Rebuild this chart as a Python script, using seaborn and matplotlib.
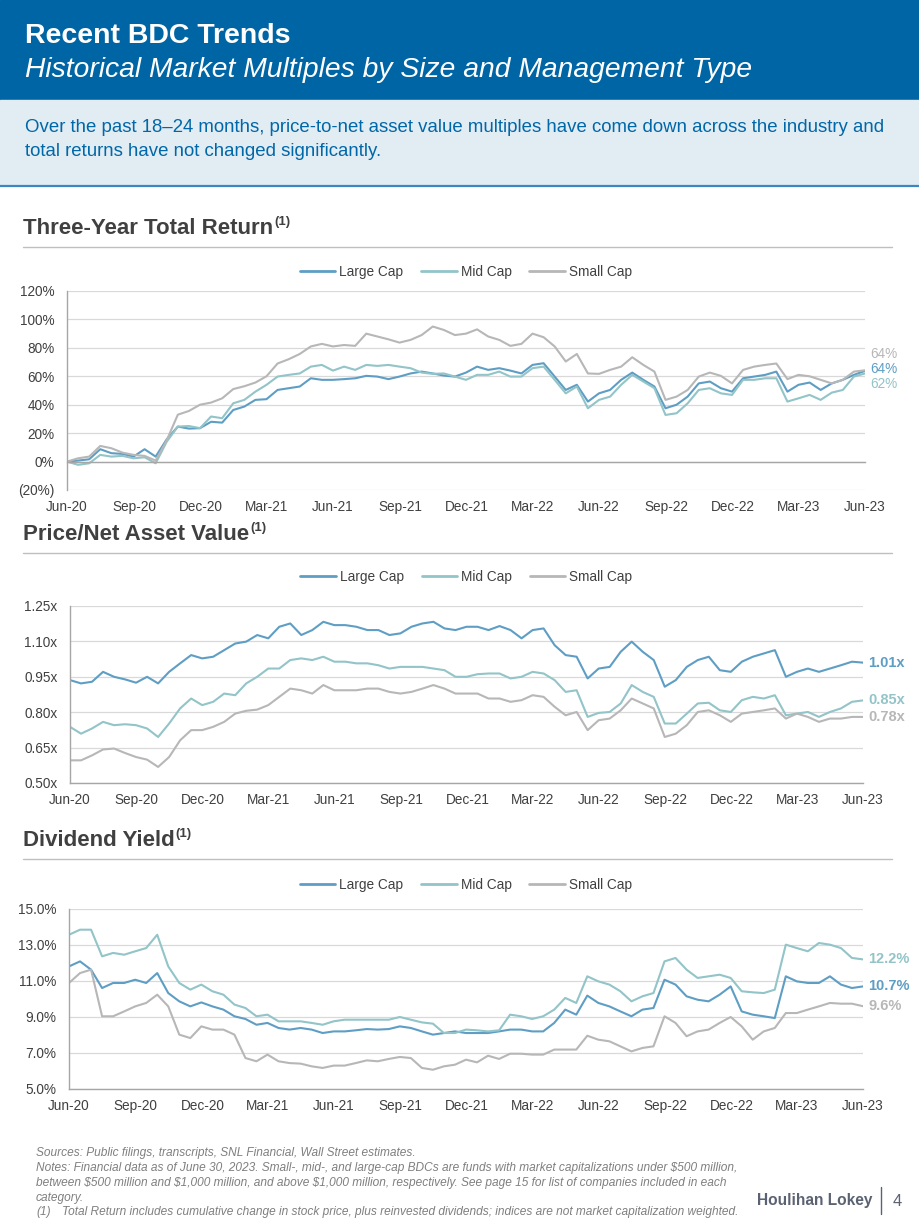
import matplotlib
matplotlib.use('Agg')
import matplotlib.pyplot as plt
import matplotlib.dates as mdates
from matplotlib.patches import Rectangle
from matplotlib.lines import Line2D
from matplotlib.ticker import FuncFormatter
import pandas as pd
import seaborn as sns

W, H = 920, 1227

SERIES = ['Large Cap', 'Mid Cap', 'Small Cap']
COLORS = {'Large Cap': '#5E9EC4', 'Mid Cap': '#92C4C8', 'Small Cap': '#B7B7B7'}

# semi-monthly observations, Jun-20 .. Jun-23
DATES = pd.date_range('2020-06-30', '2023-06-30', periods=73)
QUARTER_ENDS = ['2020-06-30', '2020-09-30', '2020-12-31', '2021-03-31',
                '2021-06-30', '2021-09-30', '2021-12-31', '2022-03-31',
                '2022-06-30', '2022-09-30', '2022-12-31', '2023-03-31',
                '2023-06-30']

# three-year total return (%)
tr_large = [0, 0.7, 1.6, 8.7, 5.9, 5.4, 3.5, 8.7, 3.5, 15.7,
            24.6, 23.2, 23.5, 28, 27.4, 36.3, 38.7, 43.4, 43.9, 50.4,
            51.6, 52.8, 58.6, 57.5, 57.5, 58, 58.6, 60.3, 59.8, 58,
            59.8, 62, 63.3, 62, 60.5, 59.8, 62.6, 66.8, 64.5, 65.7,
            64, 62, 68, 69.2, 59.8, 50.4, 54, 42.2, 48, 50.4,
            57.5, 62.6, 57.5, 52.8, 37.5, 40, 45.7, 55, 56.3, 51.6,
            49.2, 58.6, 59.8, 61, 63.3, 49.2, 54, 55.6, 50.4, 55,
            57.5, 61, 63.8]
tr_mid = [0, -2.3, -1.2, 4.7, 3.5, 4, 2.3, 3, -1.2, 14,
          24.6, 25, 23.5, 31.7, 30.5, 41, 43.4, 49.2, 54, 59.8,
          61, 62, 66.8, 68, 64, 66.8, 64.5, 68, 67.3, 68,
          66.8, 65.7, 62.6, 61.7, 62, 59.8, 57.5, 61, 61, 63.3,
          59.8, 59.8, 65.7, 66.8, 57.5, 48, 52.8, 37.5, 43.4, 45.7,
          54, 61, 56.3, 51.6, 32.8, 34, 41, 50.4, 51.6, 48,
          46.9, 57.5, 57.5, 58.6, 58.6, 42.2, 44.5, 46.9, 43.4, 48.5,
          50.4, 59.8, 62.0]
tr_small = [0, 2.3, 3.5, 11, 9.4, 6.3, 4.7, 4, 0.7, 15,
            33, 35.6, 40, 41.5, 44.5, 51, 53, 55.6, 60, 69,
            72, 75.7, 81, 82.8, 81, 82, 81.4, 90, 88, 86,
            83.7, 85.6, 89, 95, 92.6, 89, 90, 93, 88, 85.6,
            81.4, 82.8, 90, 87.5, 81, 70.4, 75.7, 62, 61.7, 64.5,
            66.8, 73.4, 68, 63.3, 43.4, 45.7, 50.4, 59.8, 62.6, 60.3,
            55, 64.5, 66.8, 68, 69, 58, 61, 60, 57.5, 55,
            57.5, 63.3, 64.2]

# price / net asset value (x)
pnav_large = [0.936, 0.922, 0.929, 0.971, 0.95, 0.939, 0.925, 0.95, 0.922, 0.971,
              1.007, 1.042, 1.028, 1.035, 1.063, 1.091, 1.099, 1.127, 1.113, 1.162,
              1.176, 1.127, 1.148, 1.183, 1.169, 1.169, 1.162, 1.148, 1.148, 1.127,
              1.134, 1.162, 1.176, 1.183, 1.155, 1.148, 1.162, 1.162, 1.148, 1.165,
              1.148, 1.113, 1.148, 1.155, 1.084, 1.042, 1.035, 0.943, 0.985, 0.992,
              1.056, 1.099, 1.056, 1.021, 0.908, 0.936, 0.992, 1.021, 1.035, 0.978,
              0.971, 1.014, 1.035, 1.049, 1.063, 0.95, 0.971, 0.985, 0.971, 0.985,
              0.999, 1.014, 1.01]
pnav_mid = [0.738, 0.709, 0.731, 0.759, 0.745, 0.749, 0.745, 0.731, 0.695, 0.752,
            0.816, 0.858, 0.830, 0.844, 0.879, 0.872, 0.922, 0.95, 0.985, 0.985,
            1.021, 1.028, 1.021, 1.035, 1.014, 1.014, 1.007, 1.007, 0.999, 0.985,
            0.992, 0.992, 0.992, 0.985, 0.978, 0.95, 0.95, 0.961, 0.964, 0.964,
            0.943, 0.95, 0.971, 0.964, 0.936, 0.886, 0.893, 0.780, 0.797, 0.801,
            0.837, 0.915, 0.886, 0.865, 0.752, 0.752, 0.794, 0.837, 0.840, 0.808,
            0.801, 0.851, 0.865, 0.858, 0.872, 0.787, 0.794, 0.801, 0.780, 0.801,
            0.816, 0.844, 0.85]
pnav_small = [0.596, 0.596, 0.617, 0.642, 0.646, 0.627, 0.610, 0.599, 0.568, 0.610,
              0.681, 0.724, 0.724, 0.738, 0.759, 0.794, 0.806, 0.811, 0.830, 0.865,
              0.900, 0.893, 0.879, 0.915, 0.893, 0.893, 0.893, 0.900, 0.900, 0.886,
              0.879, 0.886, 0.900, 0.915, 0.900, 0.879, 0.879, 0.879, 0.858, 0.858,
              0.844, 0.851, 0.872, 0.865, 0.823, 0.787, 0.801, 0.724, 0.766, 0.773,
              0.808, 0.858, 0.837, 0.816, 0.695, 0.709, 0.745, 0.801, 0.808, 0.787,
              0.759, 0.794, 0.801, 0.808, 0.816, 0.773, 0.794, 0.780, 0.759, 0.773,
              0.773, 0.780, 0.78]

# dividend yield (%)
dy_large = [11.81, 12.09, 11.63, 10.61, 10.89, 10.89, 11.07, 10.89, 11.44, 10.33,
            9.87, 9.59, 9.81, 9.59, 9.41, 9.04, 8.89, 8.57, 8.67, 8.39,
            8.30, 8.39, 8.30, 8.11, 8.20, 8.20, 8.26, 8.33, 8.30, 8.33,
            8.48, 8.39, 8.20, 8.02, 8.11, 8.20, 8.11, 8.11, 8.11, 8.20,
            8.30, 8.30, 8.20, 8.20, 8.67, 9.41, 9.13, 10.19, 9.78, 9.59,
            9.31, 9.04, 9.41, 9.50, 11.07, 10.80, 10.15, 9.96, 9.87, 10.24,
            10.70, 9.31, 9.13, 9.04, 8.94, 11.26, 10.98, 10.89, 10.89, 11.26,
            10.80, 10.61, 10.7]
dy_mid = [13.57, 13.85, 13.85, 12.37, 12.56, 12.46, 12.65, 12.83, 13.57, 11.81,
          10.89, 10.52, 10.80, 10.43, 10.24, 9.69, 9.50, 9.04, 9.13, 8.76,
          8.76, 8.76, 8.67, 8.57, 8.76, 8.85, 8.85, 8.85, 8.85, 8.85,
          9.0, 8.85, 8.70, 8.63, 8.11, 8.11, 8.30, 8.26, 8.20, 8.26,
          9.13, 9.04, 8.89, 9.04, 9.41, 10.06, 9.78, 11.26, 10.98, 10.80,
          10.43, 9.87, 10.15, 10.33, 12.09, 12.28, 11.63, 11.17, 11.26, 11.35,
          11.17, 10.43, 10.37, 10.33, 10.52, 13.02, 12.83, 12.65, 13.11, 13.02,
          12.83, 12.28, 12.2]
dy_small = [10.89, 11.44, 11.63, 9.04, 9.04, 9.31, 9.59, 9.78, 10.24, 9.59,
            8.02, 7.83, 8.48, 8.30, 8.30, 8.02, 6.72, 6.54, 6.91, 6.54,
            6.44, 6.41, 6.26, 6.17, 6.30, 6.30, 6.44, 6.59, 6.54, 6.67,
            6.78, 6.72, 6.17, 6.07, 6.26, 6.35, 6.63, 6.48, 6.85, 6.67,
            6.96, 6.96, 6.91, 6.91, 7.19, 7.19, 7.19, 7.96, 7.74, 7.65,
            7.37, 7.09, 7.28, 7.37, 9.04, 8.67, 7.93, 8.20, 8.30, 8.67,
            9.0, 8.48, 7.74, 8.20, 8.39, 9.22, 9.22, 9.41, 9.59, 9.78,
            9.74, 9.74, 9.6]

TEXT_DARK = '#404040'


def fx(px):
    return px / W


def fy(py):
    return 1 - py / H


def to_long(values):
    frames = []
    for name, vals in zip(SERIES, values):
        frames.append(pd.DataFrame({'date': DATES, 'value': vals, 'series': name}))
    return pd.concat(frames, ignore_index=True)


def section_title(fig, y_px, text):
    t = fig.text(fx(23), fy(y_px), text, fontsize=16, fontweight='bold',
                 color=TEXT_DARK, va='center', ha='left')
    bb = t.get_window_extent(renderer=fig.canvas.get_renderer())
    fig.text(bb.x1 / W + 0.001, fy(y_px - 6), '(1)', fontsize=9.5,
             fontweight='bold', color=TEXT_DARK, va='center', ha='left')
    fig.add_artist(Line2D([fx(23), fx(892)], [fy(y_px + 19)] * 2,
                          transform=fig.transFigure, color='#BFBFBF', lw=1))


def panel(ax, values, ylim, yticks, yfmt, legend_y, label_fmt, label_dy,
          label_bold, label_size=10.5, zero_axis=False, xpad=3):
    df = to_long(values)
    sns.lineplot(data=df, x='date', y='value', hue='series', hue_order=SERIES,
                 palette=COLORS, lw=1.5, ax=ax)
    sns.move_legend(ax, 'center', bbox_to_anchor=(0.5, legend_y), ncol=3,
                    frameon=False, title=None, fontsize=9.8, handlelength=2.6,
                    columnspacing=1.3, handletextpad=0.3)
    for line in ax.get_legend().get_lines():
        line.set_linewidth(2)
    for txt in ax.get_legend().get_texts():
        txt.set_color(TEXT_DARK)

    ax.set_xlim(pd.Timestamp(QUARTER_ENDS[0]), pd.Timestamp(QUARTER_ENDS[-1]))
    ax.set_ylim(*ylim)
    ax.set_xticks(pd.to_datetime(QUARTER_ENDS))
    ax.xaxis.set_major_formatter(mdates.DateFormatter('%b-%y'))
    ax.set_yticks(yticks)
    ax.yaxis.set_major_formatter(FuncFormatter(yfmt))
    ax.set_xlabel('')
    ax.set_ylabel('')

    ax.set_facecolor('white')
    ax.grid(False)
    ax.yaxis.grid(True, color='#D9D9D9', lw=0.9)
    ax.set_axisbelow(True)
    for s in ['top', 'right']:
        ax.spines[s].set_visible(False)
    for s in ['left', 'bottom']:
        ax.spines[s].set_visible(True)
        ax.spines[s].set_color('#A6A6A6')
        ax.spines[s].set_linewidth(1)
    if zero_axis:
        ax.spines['bottom'].set_position(('data', 0))
    ax.tick_params(axis='x', direction='out', length=4, width=1,
                   color='#A6A6A6', labelsize=9.8, labelcolor=TEXT_DARK, pad=xpad)
    ax.tick_params(axis='y', length=0, labelsize=9.8, labelcolor=TEXT_DARK, pad=9)

    for name, vals, dy in zip(SERIES, values, label_dy):
        ax.annotate(label_fmt(vals[-1]), xy=(DATES[-1], vals[-1]),
                    xytext=(4, dy), textcoords='offset points',
                    ha='left', va='center', fontsize=label_size, color=COLORS[name],
                    fontweight='bold' if label_bold else 'normal',
                    annotation_clip=False)


def main():
    sns.set_theme(style='white')
    plt.rcParams['font.family'] = ['Liberation Sans', 'DejaVu Sans']

    fig = plt.figure(figsize=(W / 100, H / 100), dpi=100)
    fig.patch.set_facecolor('white')

    # header bands
    fig.add_artist(Rectangle((0, fy(100)), 1, 100 / H, transform=fig.transFigure,
                             color='#0065A4', zorder=0))
    fig.add_artist(Rectangle((0, fy(185)), 1, 85 / H, transform=fig.transFigure,
                             color='#E2ECF3', zorder=0))
    fig.add_artist(Line2D([0, 1], [fy(185.5)] * 2, transform=fig.transFigure,
                          color='#3A87C4', lw=1.6))
    fig.text(fx(25), fy(36), 'Recent BDC Trends', fontsize=20.5, fontweight='bold',
             color='white', va='center')
    fig.text(fx(25), fy(70), 'Historical Market Multiples by Size and Management Type',
             fontsize=20.3, fontstyle='italic', color='white', va='center')
    fig.text(fx(25), fy(127), 'Over the past 18\u201324 months, price-to-net asset value '
             'multiples have come down across the industry and',
             fontsize=13.4, color='#0067A8', va='center')
    fig.text(fx(25), fy(152), 'total returns have not changed significantly.',
             fontsize=13.4, color='#0067A8', va='center')

    section_title(fig, 228, 'Three-Year Total Return')
    section_title(fig, 534, 'Price/Net Asset Value')
    section_title(fig, 840, 'Dividend Yield')

    ax1 = fig.add_axes([fx(67), fy(490), fx(865) - fx(67), 199 / H])
    panel(ax1, [tr_large, tr_mid, tr_small], (-20, 120), range(-20, 121, 20),
          lambda v, p: f'({abs(v):.0f}%)' if v < 0 else f'{v:.0f}%',
          1 + 19 / 199, lambda v: f'{v:.0f}%', [1.6, -7.6, 11.6], False,
          label_size=9.8, zero_axis=True, xpad=24)

    ax2 = fig.add_axes([fx(70), fy(783), fx(863) - fx(70), 177 / H])
    panel(ax2, [pnav_large, pnav_mid, pnav_small], (0.5, 1.25),
          [0.50, 0.65, 0.80, 0.95, 1.10, 1.25],
          lambda v, p: f'{v:.2f}x', 1 + 29 / 177,
          lambda v: f'{v:.2f}x', [0, 0, 0], True)

    ax3 = fig.add_axes([fx(69), fy(1089), fx(863) - fx(69), 180 / H])
    panel(ax3, [dy_large, dy_mid, dy_small], (5, 15), range(5, 16, 2),
          lambda v, p: f'{v:.1f}%', 1 + 24 / 180,
          lambda v: f'{v:.1f}%', [0, 0, 0], True)

    # footnotes
    notes = [
        (1153, 'Sources: Public filings, transcripts, SNL Financial, Wall Street estimates.'),
        (1168, 'Notes: Financial data as of June 30, 2023. Small-, mid-, and large-cap BDCs are '
               'funds with market capitalizations under $500 million,'),
        (1183, 'between $500 million and $1,000 million, and above $1,000 million, respectively. '
               'See page 15 for list of companies included in each'),
        (1198, 'category.'),
    ]
    for y, s in notes:
        fig.text(fx(36), fy(y), s, fontsize=8.6, fontstyle='italic',
                 color='#7F7F7F', va='center')
    fig.text(fx(36), fy(1212), '(1)', fontsize=8.6, fontstyle='italic',
             color='#7F7F7F', va='center')
    fig.text(fx(62), fy(1212), 'Total Return includes cumulative change in stock price, plus '
             'reinvested dividends; indices are not market capitalization weighted.',
             fontsize=8.6, fontstyle='italic', color='#7F7F7F', va='center')

    fig.text(fx(873), fy(1201), 'Houlihan Lokey', fontsize=11.2, fontweight='bold',
             color='#5B6272', ha='right', va='center')
    fig.add_artist(Line2D([fx(881)] * 2, [fy(1187), fy(1214)],
                          transform=fig.transFigure, color='#5B6272', lw=1))
    fig.text(fx(893), fy(1201), '4', fontsize=12, color='#5B6272', va='center')

    fig.savefig('out.png', dpi=100)


if __name__ == '__main__':
    main()
